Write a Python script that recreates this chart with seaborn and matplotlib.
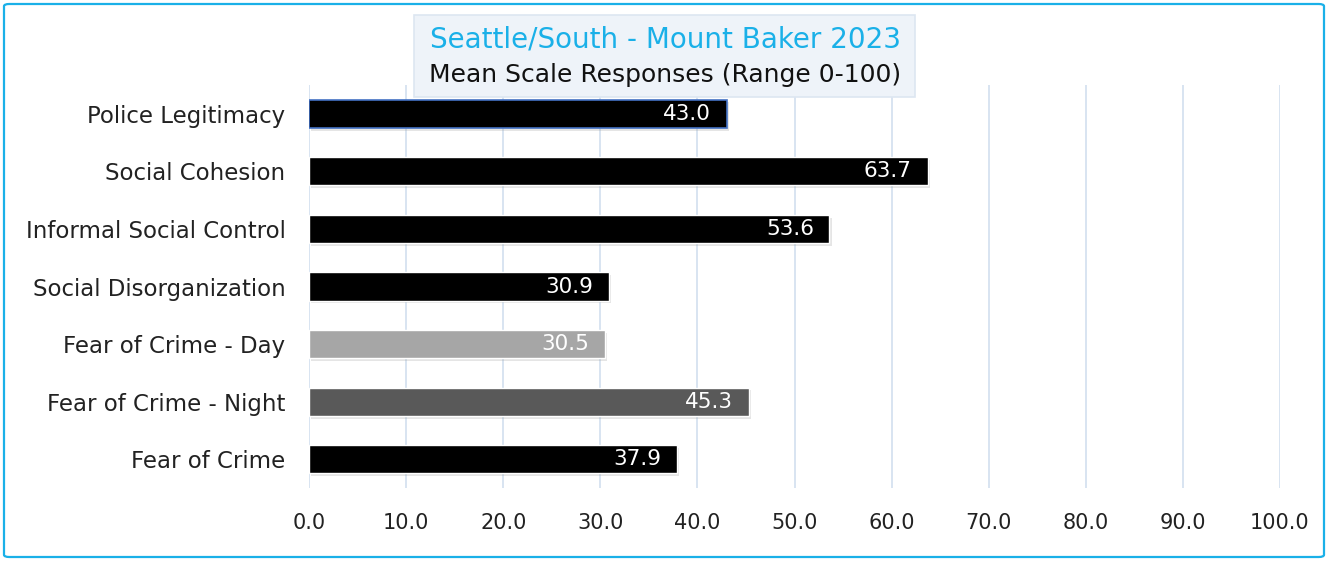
import matplotlib
matplotlib.use("Agg")
import matplotlib.pyplot as plt
import matplotlib.patheffects as pe
from matplotlib.patches import FancyBboxPatch
import seaborn as sns
import pandas as pd

categories = [
    "Police Legitimacy",
    "Social Cohesion",
    "Informal Social Control",
    "Social Disorganization",
    "Fear of Crime - Day",
    "Fear of Crime - Night",
    "Fear of Crime",
]
values = [43.0, 63.7, 53.6, 30.9, 30.5, 45.3, 37.9]
bar_colors = ["#000000", "#000000", "#000000", "#000000", "#a6a6a6", "#595959", "#000000"]
x_ticks = [0, 10, 20, 30, 40, 50, 60, 70, 80, 90, 100]

title_line1 = "Seattle/South - Mount Baker 2023"
title_line2 = "Mean Scale Responses (Range 0-100)"

sns.set_theme(style="white")
plt.rcParams["font.family"] = ["DejaVu Sans"]

df = pd.DataFrame({"category": categories, "value": values})

fig = plt.figure(figsize=(13.28, 5.61), dpi=100)
ax = fig.add_axes([309 / 1328, 1 - 488 / 561, (1280 - 309) / 1328, (488 - 85) / 561])

sns.barplot(data=df, y="category", x="value", hue="category",
            palette=dict(zip(categories, bar_colors)), legend=False,
            width=0.49, ax=ax, orient="h", saturation=1)

shadow = [pe.SimplePatchShadow(offset=(1.5, -2), shadow_rgbFace="#999999", alpha=0.25), pe.Normal()]
for i, patch in enumerate(ax.patches):
    patch.set_path_effects(shadow)
    if i == 0:
        patch.set_edgecolor("#4472c4")
        patch.set_linewidth(1.2)

for i, v in enumerate(values):
    ax.text(v - 1.6, i, f"{v:.1f}", color="white", ha="right", va="center", fontsize=15.5)

ax.set_xlim(0, 100)
ax.set_ylim(len(categories) - 0.5, -0.5)
ax.set_xticks(x_ticks)
ax.set_xticklabels([f"{t:.1f}" for t in x_ticks], fontsize=15, color="#222222")
ax.tick_params(axis="x", pad=18, length=0)
ax.tick_params(axis="y", pad=17, length=0, labelsize=16.5, labelcolor="#222222")
ax.set_xlabel("")
ax.set_ylabel("")
ax.grid(axis="x", color="#d6e2f0", linewidth=1.3)
ax.set_axisbelow(True)
for s in ax.spines.values():
    s.set_visible(False)

# outer frame
frame = FancyBboxPatch((4 / 1328, 4 / 561), 1320 / 1328, 553 / 561,
                       boxstyle="round,pad=0,rounding_size=0.004",
                       transform=fig.transFigure, fill=False,
                       edgecolor="#1ab0e8", linewidth=1.6, zorder=0)
fig.patches.append(frame)

# title box
tbox = FancyBboxPatch((414 / 1328, 1 - 97 / 561), 501 / 1328, 82 / 561,
                      boxstyle="square,pad=0", transform=fig.transFigure,
                      facecolor="#eef3f9", edgecolor="#dde6f1", linewidth=1.2, zorder=5)
fig.patches.append(tbox)
fig.text(665 / 1328, 1 - 39 / 561, title_line1, ha="center", va="center",
         fontsize=20, color="#1ab0e8", zorder=6)
fig.text(665 / 1328, 1 - 75 / 561, title_line2, ha="center", va="center",
         fontsize=18, color="#111111", zorder=6)

fig.savefig("out.png", dpi=100)
